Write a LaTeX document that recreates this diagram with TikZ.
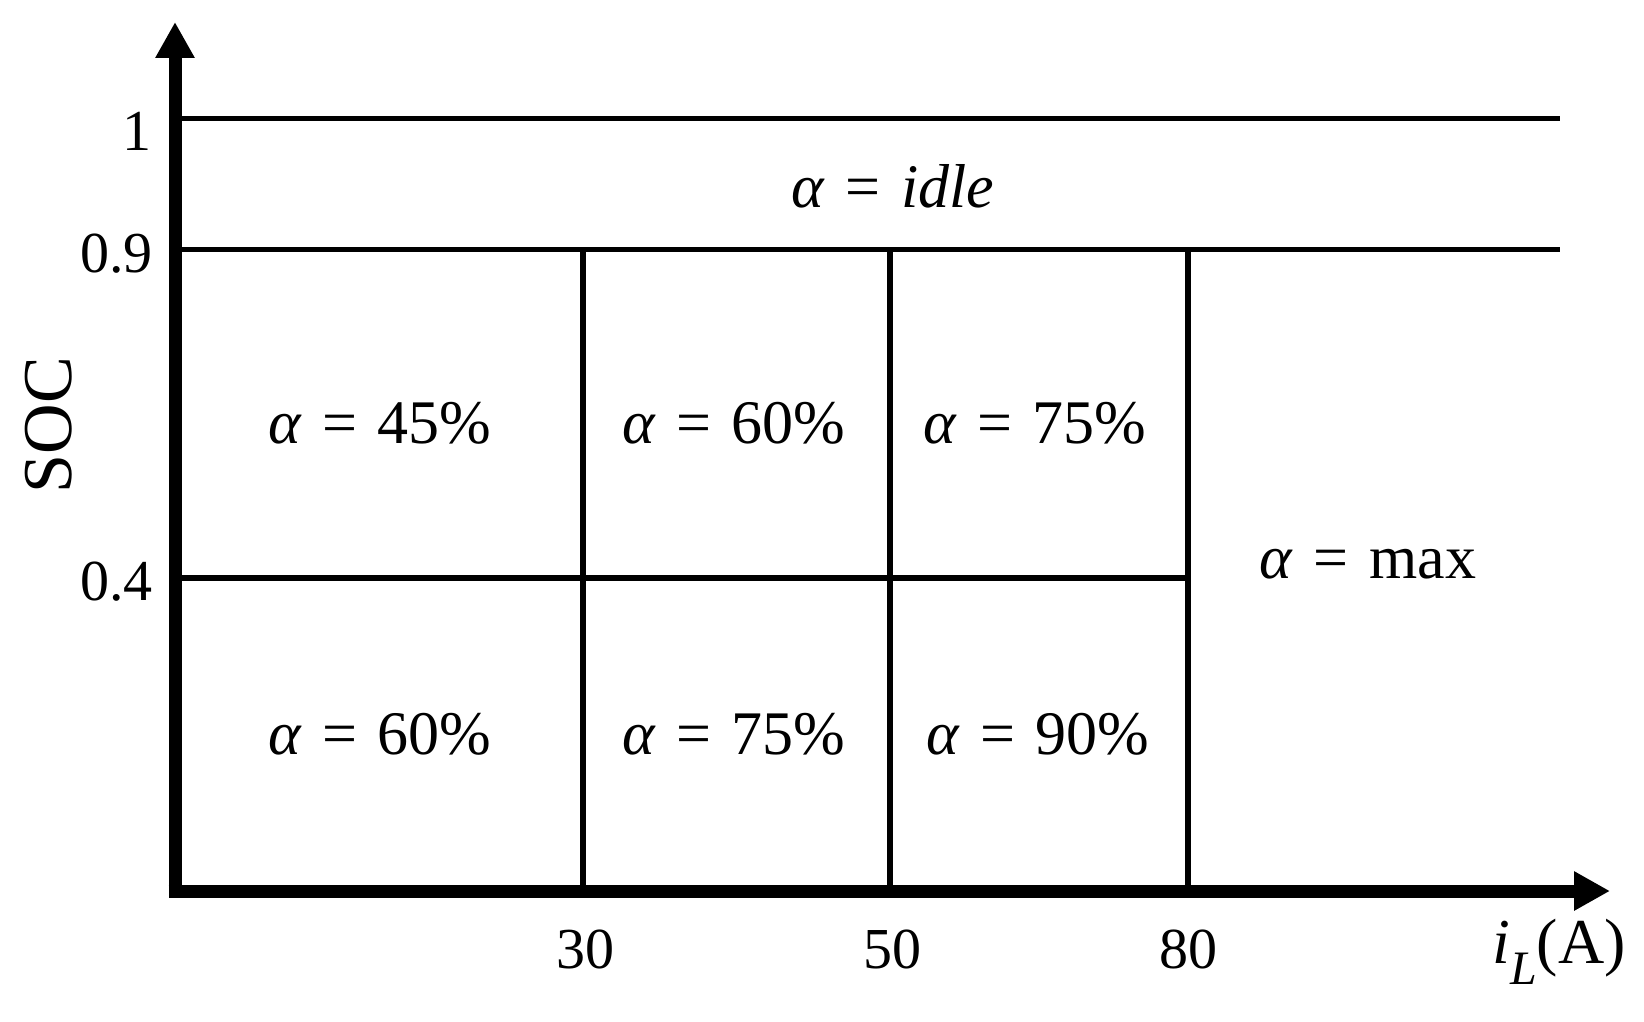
\documentclass[tikz,border=0pt]{standalone}
\usepackage{fontspec}
\setmainfont{Liberation Serif}
\usetikzlibrary{arrows.meta}
\newcommand{\eqsp}{\hspace{0.33em}=\hspace{0.33em}}
\begin{document}
\begin{tikzpicture}[x=0.5pt,y=-0.5pt,
  axis/.style={line width=6.5pt,-{Triangle[length=18pt,width=18.5pt]}},
  grid/.style={line width=2.6pt},
  ticklbl/.style={font=\fontsize{29}{34}\selectfont,inner sep=0pt},
  celllbl/.style={font=\fontsize{31}{36}\selectfont,inner sep=0pt}]
\useasboundingbox (0,0) rectangle (1644,1022);
% key coordinates
\coordinate (ybot) at (175,897.5);
\coordinate (ytop) at (175,22);
\coordinate (xleft) at (168.5,891);
\coordinate (xend) at (1610,891);
\coordinate (h1a) at (175,118.5);  \coordinate (h1b) at (1560,118.5);
\coordinate (h9a) at (175,249.5);  \coordinate (h9b) at (1560,249.5);
\coordinate (h4a) at (175,578);    \coordinate (h4b) at (1188,578);
\coordinate (v30t) at (583,249.5); \coordinate (v30b) at (583,891);
\coordinate (v50t) at (890,249.5); \coordinate (v50b) at (890,891);
\coordinate (v80t) at (1188,249.5);\coordinate (v80b) at (1188,891);
% grid lines
\draw[grid] (h1a) -- (h1b);
\draw[grid] (h9a) -- (h9b);
\draw[grid] (h4a) -- (h4b);
\draw[grid] (v30t) -- (v30b);
\draw[grid] (v50t) -- (v50b);
\draw[grid] (v80t) -- (v80b);
% axes
\draw[axis] (ybot) -- (ytop);
\draw[axis] (xleft) -- (xend);
% tick labels
\node[ticklbl,anchor=east] (l1) at (152,131) {1};
\node[ticklbl,anchor=east] (l09) at (153,254) {0.9};
\node[ticklbl,anchor=east] (l04) at (153,582) {0.4};
\node[ticklbl] (l30) at (585,949) {30};
\node[ticklbl] (l50) at (892,949) {50};
\node[ticklbl] (l80) at (1188,949) {80};
% axis labels
\node[inner sep=0pt,rotate=90,font=\fontsize{35}{40}\selectfont] (soc) at (49,425) {SOC};
\node[inner sep=0pt,font=\fontsize{32}{38}\selectfont] (il) at (1559,952) {\textit{i}\raisebox{-0.32em}{\fontsize{24}{26}\selectfont\textit{L}}(A)};
% cell labels
\node[celllbl] (idle) at (893,186) {\textit{α}\eqsp\textit{idle}};
\node[celllbl] (c45) at (380,423) {\textit{α}\eqsp45\%};
\node[celllbl] (c60a) at (734,423) {\textit{α}\eqsp60\%};
\node[celllbl] (c75a) at (1035,423) {\textit{α}\eqsp75\%};
\node[celllbl] (c60b) at (380,734) {\textit{α}\eqsp60\%};
\node[celllbl] (c75b) at (734,734) {\textit{α}\eqsp75\%};
\node[celllbl] (c90) at (1038,734) {\textit{α}\eqsp90\%};
\node[celllbl] (cmax) at (1368,564) {\textit{α}\eqsp max};
\end{tikzpicture}
\end{document}
